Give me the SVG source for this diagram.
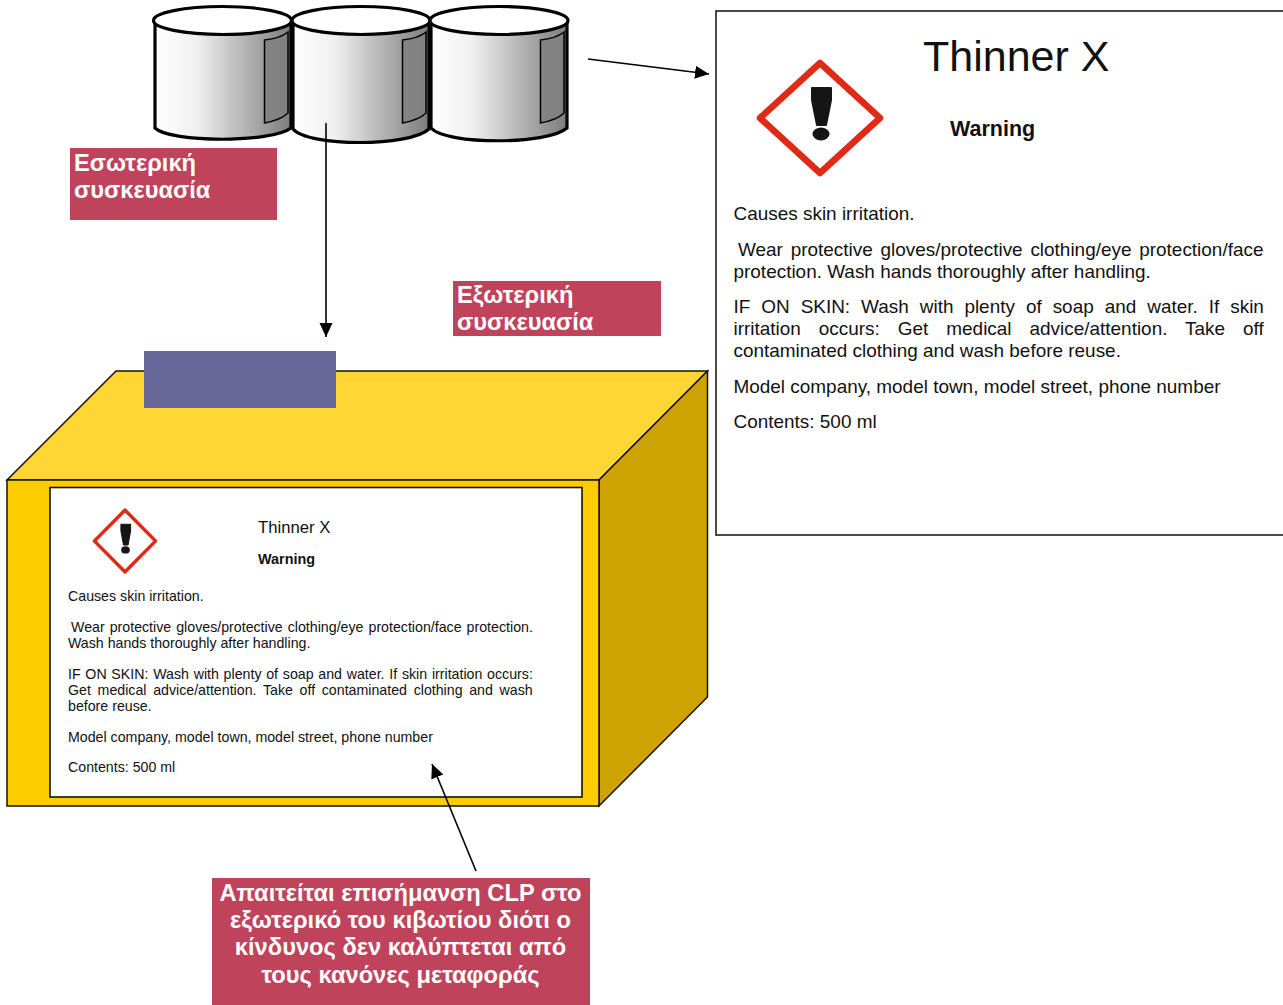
<svg xmlns="http://www.w3.org/2000/svg" width="1283" height="1005" viewBox="0 0 1283 1005">
<style>
text{font-family:"Liberation Sans",Arial,sans-serif;fill:#111}
.big{font-size:18.960px}
.sm{font-size:14.200px}
.hd{font-size:23.700px;font-weight:bold;fill:#fff}
.red{fill:#c0435c}
.cyl{stroke:#000;stroke-width:3.200;fill:url(#g)}
.top{stroke:#000;stroke-width:3.200;fill:#fff}
.pan{stroke:#000;stroke-width:1.5;fill:#808080;fill-opacity:.85}
.box{stroke:#111;stroke-width:1.5}
.ln{stroke:#000;stroke-width:1.600;fill:none}
</style>
<defs>
<linearGradient id="g" x1="0" x2="1" y1="0" y2="0"><stop offset="0" stop-color="#fff"/><stop offset=".3" stop-color="#f0f0f0"/><stop offset="1" stop-color="#7c7c7c"/></linearGradient>
<marker id="a" markerUnits="userSpaceOnUse" markerWidth="15" markerHeight="14" refX="14" refY="6.5" orient="auto"><path d="M0 0L14 6.5L0 13z" fill="#000"/></marker>
<g id="ghs"><path d="M0 -55L60 0L0 55L-60 0Z" fill="#fff" stroke="#e02a18" stroke-width="6.5" stroke-linejoin="round"/><path d="M-8 -30L11 -30L11 -18L6 7L-3 7L-8 -18Z" fill="#151515" stroke="#151515" stroke-linejoin="round" stroke-width="2"/><ellipse cx="1" cy="16" rx="8.500" ry="6.500" fill="#151515"/></g>
</defs>
<g id="drum1"><path class="cyl" d="M155 21V128C170 143 272 143 291 128V21Z"/><ellipse class="top" cx="222.500" cy="20.500" rx="69" ry="14"/><path class="pan" d="M264.500 40C275 39 283 36 288 32V113C283 118 275 121 264.500 123Z"/></g>
<g id="drum2"><path class="cyl" d="M293 21V129C308 147 410 147 429 129V21Z"/><ellipse class="top" cx="361" cy="20.500" rx="69" ry="14"/><path class="pan" d="M402.500 40C413 39 421 36 426 32V113C421 118 413 121 402.500 123Z"/></g>
<g id="drum3"><path class="cyl" d="M431 21V128C446 145 548 145 567 128V21Z"/><ellipse class="top" cx="499" cy="20.500" rx="69" ry="14"/><path class="pan" d="M540.500 40C551 39 559 36 564 32V113C559 118 551 121 540.500 123Z"/></g>
<g id="inner-tag"><rect class="red" x="70" y="148" width="207" height="72"/><text class="hd" x="74" y="171">Εσωτερική</text><text class="hd" x="74" y="198">συσκευασία</text></g>
<g id="outer-tag"><rect class="red" x="453" y="281" width="208" height="55"/><text class="hd" x="457" y="303">Εξωτερική</text><text class="hd" x="457" y="330">συσκευασία</text></g>
<g id="box">
<path class="box" d="M7 480L116 371H707.500L599 480Z" fill="#ffd633"/>
<path class="box" d="M599 480L707.500 371V697L599 806Z" fill="#cca300"/>
<rect class="box" x="7" y="480" width="592" height="326" fill="#fc0"/>
</g>
<rect id="lid-tape" x="144" y="351" width="192" height="57" fill="#666699"/>
<g id="box-label">
<rect x="50" y="487.500" width="532" height="309.500" fill="#fff" stroke="#111" stroke-width="1.600"/>
<use href="#ghs" transform="translate(125 541) scale(.51 .56)"/>
<text x="258" y="533" font-size="16.700">Thinner X</text>
<text x="258" y="564" font-size="14.400" font-weight="bold">Warning</text>
<text class="sm" x="68" y="601">Causes skin irritation.</text>
<text class="sm" x="71" y="632" word-spacing="1.100">Wear protective gloves/protective clothing/eye protection/face protection.</text>
<text class="sm" x="68" y="648">Wash hands thoroughly after handling.</text>
<text class="sm" x="68" y="679" word-spacing=".8">IF ON SKIN: Wash with plenty of soap and water. If skin irritation occurs:</text>
<text class="sm" x="68" y="695" word-spacing="2.750">Get medical advice/attention. Take off contaminated clothing and wash</text>
<text class="sm" x="68" y="711">before reuse.</text>
<text class="sm" x="68" y="742">Model company, model town, model street, phone number</text>
<text class="sm" x="68" y="772">Contents: 500 ml</text>
</g>
<g id="label">
<rect x="716" y="11" width="580" height="524" fill="#fff" stroke="#111" stroke-width="1.500"/>
<use href="#ghs" transform="translate(820 118)"/>
<text x="923" y="71" font-size="43">Thinner X</text>
<text x="950" y="136" font-size="21.500" font-weight="bold">Warning</text>
<text class="big" x="733.500" y="220">Causes skin irritation.</text>
<text class="big" x="738" y="256" word-spacing="2.500">Wear protective gloves/protective clothing/eye protection/face</text>
<text class="big" x="733.500" y="278">protection. Wash hands thoroughly after handling.</text>
<text class="big" x="733.500" y="313" word-spacing="5.700">IF ON SKIN: Wash with plenty of soap and water. If skin</text>
<text class="big" x="733.500" y="335" word-spacing="12.700">irritation occurs: Get medical advice/attention. Take off</text>
<text class="big" x="733.500" y="357">contaminated clothing and wash before reuse.</text>
<text class="big" x="733.500" y="393">Model company, model town, model street, phone number</text>
<text class="big" x="733.500" y="428">Contents: 500 ml</text>
</g>
<g id="clp-note"><rect class="red" x="212" y="878" width="378" height="127"/>
<g text-anchor="middle"><text class="hd" x="400.500" y="901">Απαιτείται επισήμανση CLP στο</text><text class="hd" x="400.500" y="928">εξωτερικό του κιβωτίου διότι ο</text><text class="hd" x="400.500" y="955">κίνδυνος δεν καλύπτεται από</text><text class="hd" x="400.500" y="983">τους κανόνες μεταφοράς</text></g></g>
<g id="connectors">
<path class="ln" d="M326 123V337" marker-end="url(#a)"/>
<path class="ln" d="M588 59L709 74" marker-end="url(#a)"/>
<path class="ln" d="M476 871L432 764" marker-end="url(#a)"/>
</g>
</svg>
